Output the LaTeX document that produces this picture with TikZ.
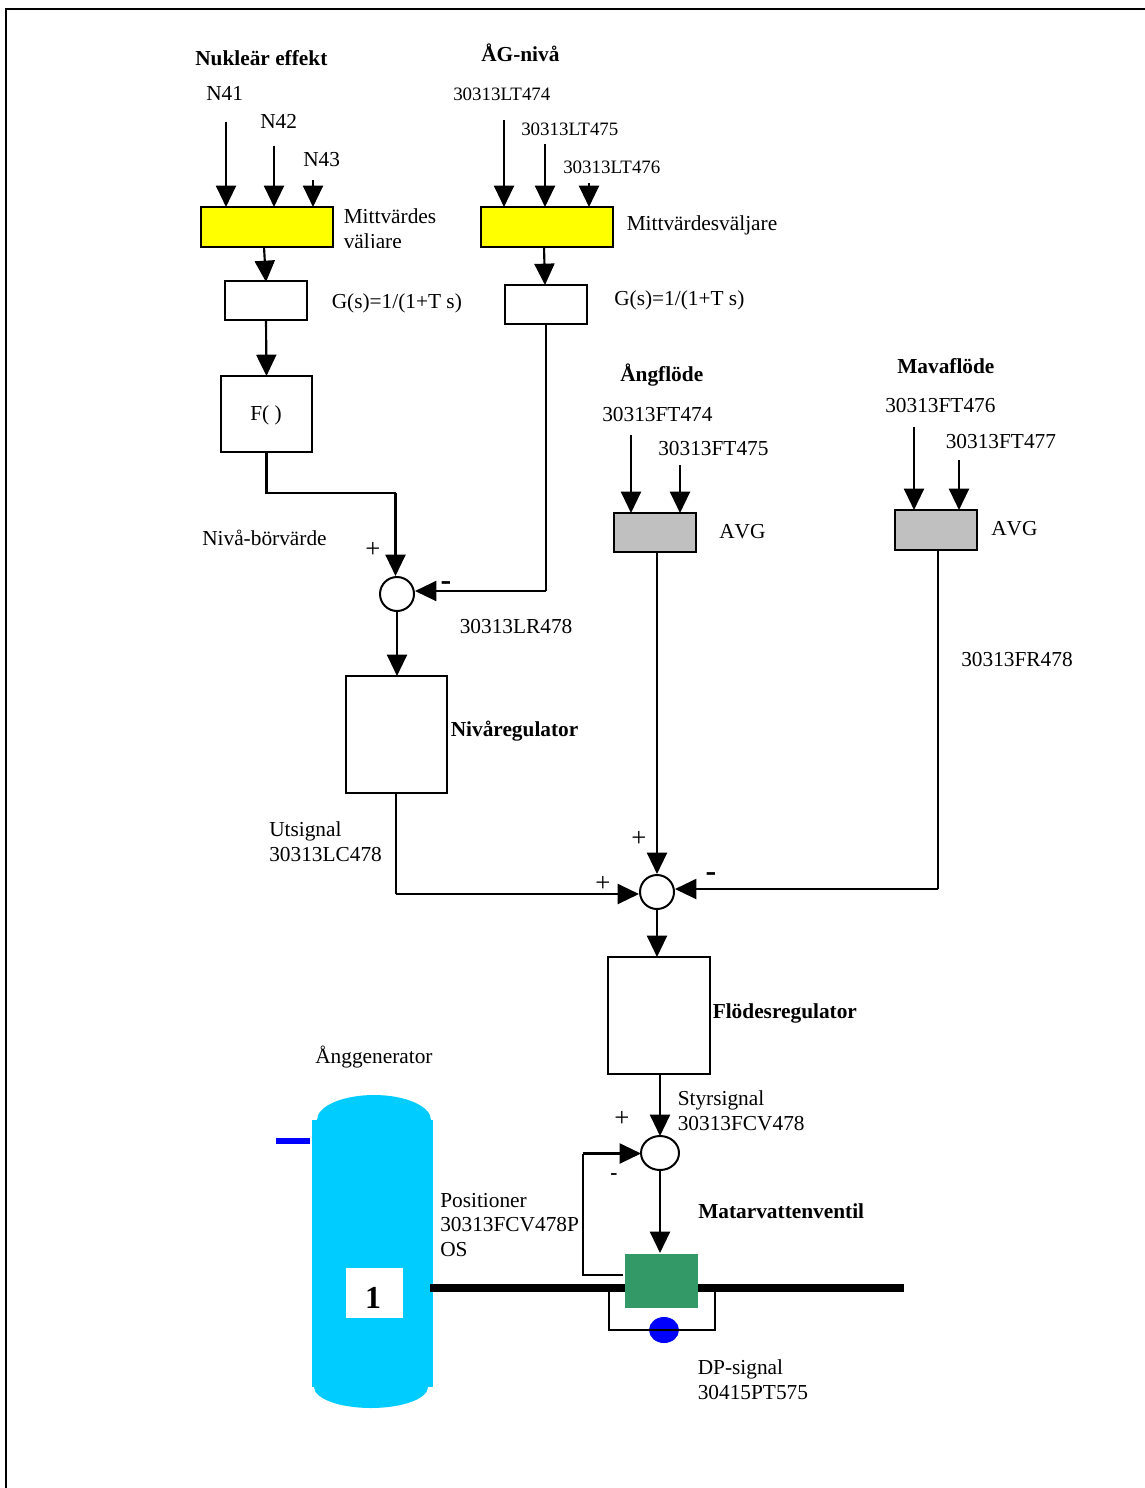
\documentclass[tikz,border=0pt]{standalone}
\usepackage{fontspec}
\setmainfont{Liberation Serif}
\usetikzlibrary{arrows.meta,shapes.geometric}
\definecolor{tankc}{RGB}{0,204,255}
\definecolor{valvec}{RGB}{51,153,102}
\definecolor{yellowc}{RGB}{255,255,0}
\definecolor{grayc}{RGB}{192,192,192}
\definecolor{bluec}{RGB}{0,0,255}
\tikzset{
  x=0.75pt,y=-0.75pt,
  boxn/.style={draw=black,line width=1.5pt,fill=white,inner sep=0pt,outer sep=0pt},
  yellowbox/.style={boxn,fill=yellowc},
  graybox/.style={boxn,fill=grayc},
  sumn/.style={circle,draw=black,line width=1.5pt,fill=white,inner sep=0pt,minimum size=25.5pt},
  wire/.style={draw=black,line width=1.6pt},
  arr/.style={wire,-{Triangle[width=15pt,length=16pt]}},
  lab/.style={anchor=base west,inner sep=0pt,font=\fontsize{16}{16}\selectfont},
  labs/.style={lab,font=\fontsize{14.2}{14.2}\selectfont},
  labb/.style={lab,font=\fontsize{16}{16}\selectfont\bfseries},
  sign/.style={anchor=center,inner sep=0pt,font=\fontsize{20}{20}\selectfont},
  signb/.style={anchor=center,inner sep=0pt,font=\fontsize{24}{24}\selectfont\bfseries},
}
\newcommand{\rectn}[6]{\node[#6,minimum width=#4*0.75pt-#2*0.75pt,minimum height=#5*0.75pt-#3*0.75pt] (#1) at ({(#2+#4)/2},{(#3+#5)/2}) {};}
\begin{document}
\begin{tikzpicture}
\useasboundingbox (0,0) rectangle (1145,1488);
% page frame
\coordinate (fa) at (6,1488); \coordinate (fb) at (6,9); \coordinate (fc) at (1145,9);
\draw[wire] (fa) -- (fb) -- (fc);

% steam generator
\fill[tankc] (374,1120) ellipse [x radius=57,y radius=25];
\fill[tankc] (371,1387) ellipse [x radius=57,y radius=21];
\fill[tankc] (312,1120) rectangle (433,1387);
\node[fill=white,inner sep=0pt,minimum width=42.75pt,minimum height=37.5pt] (one) at (374.5,1293) {};
\node[inner sep=0pt,font=\fontsize{24}{24}\selectfont\bfseries] (onet) at (373,1298) {1};
\coordinate (la) at (276,1141); \coordinate (lb) at (310,1141);
\draw[bluec,line width=4.5pt] (la) -- (lb);

% pipe and valve
\coordinate (pa) at (430,1287.5); \coordinate (pb) at (904,1287.5);
\draw[black,line width=6pt] (pa) -- (pb);
\node[fill=valvec,inner sep=0pt,minimum width=54.75pt,minimum height=40.5pt] (valve) at (661.5,1281) {};
\node[ellipse,fill=bluec,inner sep=0pt,minimum width=22.5pt,minimum height=19.5pt] (dp) at (664,1330) {};
\coordinate (ba) at (609,1291); \coordinate (bb) at (609,1330); \coordinate (bc) at (715,1330); \coordinate (bd) at (715,1291);
\draw[wire] (ba) -- (bb) -- (bc) -- (bd);

% boxes
\rectn{y1}{201}{207}{333}{247}{yellowbox}
\rectn{y2}{481}{207}{613}{247}{yellowbox}
\rectn{g1}{225}{281}{307}{320}{boxn}
\rectn{g2}{505}{285}{587}{324}{boxn}
\node[boxn,minimum width=68.25pt,minimum height=57pt] (f) at (266.5,414) {};
\node[inner sep=0pt,font=\fontsize{16}{16}\selectfont] (ft) at (266,415) {F( )};
\rectn{niv}{346}{676}{447}{793}{boxn}
\rectn{av1}{614}{513}{696}{552}{graybox}
\rectn{av2}{895}{510}{977}{550}{graybox}
\rectn{flo}{608}{957}{710}{1074}{boxn}
\node[sumn] (s1) at (397,594) {};
\node[sumn] (s2) at (657,892) {};
\node[boxn,ellipse,minimum width=28.5pt,minimum height=25.5pt] (s3) at (660,1153) {};

% free ends
\coordinate (n1) at (226,122); \coordinate (n2) at (274,146); \coordinate (n3) at (313,180);
\coordinate (l1) at (504,120); \coordinate (l2) at (545,144); \coordinate (l3) at (589,183);
\coordinate (q1) at (631,435); \coordinate (q2) at (680,465);
\coordinate (q3) at (914,427); \coordinate (q4) at (959,460);
\draw[arr] (n1) -- (n1 |- y1.north);
\draw[arr] (n2) -- (n2 |- y1.north);
\draw[arr] (n3) -- (n3 |- y1.north);
\draw[arr] (l1) -- (l1 |- y2.north);
\draw[arr] (l2) -- (l2 |- y2.north);
\draw[arr] (l3) -- (l3 |- y2.north);
\draw[arr] (q1) -- (q1 |- av1.north);
\draw[arr] (q2) -- (q2 |- av1.north);
\draw[arr] (q3) -- (q3 |- av2.north);
\draw[arr] (q4) -- (q4 |- av2.north);

\coordinate (d1) at (264,247); \coordinate (e1) at (266,282);
\coordinate (d2) at (544,247); \coordinate (e2) at (545,285);
\draw[arr] (d1) -- (e1);
\draw[arr] (d2) -- (e2);
\draw[arr] (g1.south) -- (f.north);
\coordinate (c1) at (395.5,493);
\draw[wire] (f.south) -- (f.south |- c1) -- (c1);
\draw[arr] (c1) -- (c1 |- s1.north);
\coordinate (c2) at (546,591);
\draw[wire] (g2.south) -- (c2);
\draw[arr] (c2) -- (s1.east |- c2);
\draw[arr] (s1.south) -- (s1.south |- niv.north);
\coordinate (c3) at (396,894);
\draw[wire] (niv.south -| c3) -- (c3);
\draw[arr] (c3) -- (s2.west |- c3);
\coordinate (c4) at (657,552);
\draw[arr] (c4) -- (s2.north);
\coordinate (c5) at (938,550);
\coordinate (c6) at (938,889);
\draw[wire] (c5) -- (c6);
\draw[arr] (c6) -- (s2.east |- c6);
\draw[arr] (s2.south) -- (s2.south |- flo.north);
\coordinate (c7) at (660,1074);
\draw[arr] (c7) -- (s3.north);
\coordinate (c8) at (660,1253);
\draw[arr] (s3.south) -- (c8);
\coordinate (c9) at (623,1275); \coordinate (c10) at (583,1275); \coordinate (c11) at (583,1153.5);
\draw[wire] (c9) -- (c10) -- (c11);
\draw[arr] (c11) -- (s3.west |- c11);

% labels
\node[labb] (t1) at (195,65) {Nukleär effekt};
\node[labb] (t2) at (481,62) {ÅG-nivå};
\node[lab] (t3) at (206,100) {N41};
\node[lab] (t4) at (260,128) {N42};
\node[lab] (t5) at (303,166) {N43};
\node[labs] (t6) at (453,100) {30313LT474};
\node[labs] (t7) at (521,135) {30313LT475};
\node[labs] (t8) at (563,173) {30313LT476};
\node[lab] (t9) at (343.5,223) {Mittvärdes};
\begin{scope}
\clip (340,230) rectangle (420,247.5);
\node[lab] (t10) at (343.5,248) {väljare};
\end{scope}
\node[lab] (t11) at (626.5,230) {Mittvärdesväljare};
\node[lab] (t12) at (331.5,308) {G(s)=1/(1+T s)};
\node[lab] (t13) at (614,305) {G(s)=1/(1+T s)};
\node[labb] (t14) at (620,381) {Ångflöde};
\node[labb] (t15) at (897,373) {Mavaflöde};
\node[lab] (t16) at (602,421) {30313FT474};
\node[lab] (t17) at (658,455) {30313FT475};
\node[lab] (t18) at (885,412) {30313FT476};
\node[lab] (t19) at (945.5,448) {30313FT477};
\node[lab] (t20) at (719,538) {A\kern0pt VG};
\node[lab] (t21) at (991,535) {A\kern0pt VG};
\node[lab] (t22) at (202,545) {Nivå-börvärde};
\node[lab] (t23) at (459.5,633) {30313LR478};
\node[lab] (t24) at (961,666) {30313FR478};
\node[labb] (t25) at (450.5,736) {Nivåregulator};
\node[lab] (t26) at (269,836) {Utsignal};
\node[lab] (t27) at (269,861) {30313LC478};
\node[labb] (t28) at (712.5,1018) {Flödesregulator};
\node[lab] (t29) at (315,1063) {Ånggenerator};
\node[lab] (t30) at (677.5,1105) {Styrsignal};
\node[lab] (t31) at (677.5,1130) {30313FCV478};
\node[lab] (t32) at (440,1207) {Positioner};
\node[lab] (t33) at (440,1231) {30313FCV478P};
\node[lab] (t34) at (440,1256) {OS};
\node[labb] (t35) at (698,1218) {Matarvattenventil};
\node[lab] (t36) at (697.5,1374) {DP-signal};
\node[lab] (t37) at (697.5,1399) {30415PT575};

\node[sign] (p1) at (373,549.5) {+};
\node[sign] (p2) at (639,838.5) {+};
\node[sign] (p3) at (603,883.5) {+};
\node[sign] (p4) at (622,1118.5) {+};
\node[signb] (m1) at (446,586) {-};
\node[signb] (m2) at (711,877) {-};
\node[anchor=center,inner sep=0pt,font=\fontsize{16}{16}\selectfont\bfseries] (m3) at (614,1177) {-};
\end{tikzpicture}
\end{document}
